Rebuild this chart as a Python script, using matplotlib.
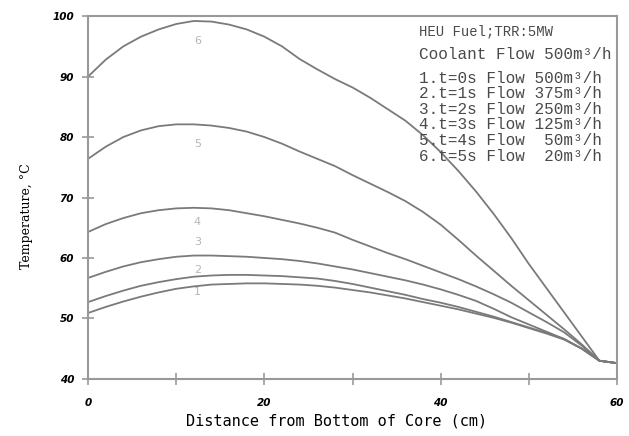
import matplotlib.pyplot as plt

# distance from bottom of core (cm)
dist = [0, 2, 4, 6, 8, 10, 12, 14, 16, 18, 20, 22, 24, 26, 28, 30,
        32, 34, 36, 38, 40, 42, 44, 46, 48, 50, 52, 54, 56, 58, 60]

# temperature curves (deg C)
temp_1 = [50.9, 51.9, 52.8, 53.6, 54.3, 54.9, 55.3, 55.6, 55.7, 55.8, 55.8,
          55.7, 55.6, 55.4, 55.1, 54.7, 54.3, 53.8, 53.3, 52.7, 52.1, 51.5,
          50.8, 50.1, 49.3, 48.4, 47.5, 46.5, 45.0, 43.0, 42.6]
temp_2 = [52.7, 53.7, 54.6, 55.4, 56.0, 56.5, 56.9, 57.1, 57.2, 57.2, 57.1,
          57.0, 56.8, 56.6, 56.2, 55.7, 55.1, 54.5, 53.9, 53.2, 52.6, 51.9,
          51.1, 50.3, 49.4, 48.5, 47.6, 46.6, 45.0, 43.0, 42.6]
temp_3 = [56.7, 57.7, 58.6, 59.3, 59.8, 60.2, 60.4, 60.4, 60.3, 60.2, 60.0,
          59.8, 59.5, 59.1, 58.6, 58.1, 57.5, 56.9, 56.3, 55.6, 54.8, 53.9,
          52.9, 51.6, 50.2, 49.0, 47.8, 46.6, 45.0, 43.0, 42.6]
temp_4 = [64.3, 65.6, 66.6, 67.4, 67.9, 68.2, 68.3, 68.2, 67.9, 67.4, 66.9,
          66.3, 65.7, 65.0, 64.2, 63.0, 61.9, 60.8, 59.8, 58.7, 57.6, 56.5,
          55.3, 54.0, 52.6, 51.0, 49.4, 47.7, 45.5, 43.0, 42.6]
temp_5 = [76.4, 78.4, 80.0, 81.1, 81.8, 82.1, 82.1, 81.9, 81.5, 80.9, 80.0,
          78.9, 77.6, 76.4, 75.2, 73.7, 72.3, 70.9, 69.4, 67.6, 65.5, 63.0,
          60.4, 57.9, 55.4, 53.0, 50.6, 48.2, 45.7, 43.0, 42.6]
temp_6 = [90.0, 92.8, 95.0, 96.6, 97.8, 98.7, 99.2, 99.1, 98.6, 97.8, 96.6,
          95.0, 92.9, 91.2, 89.6, 88.2, 86.5, 84.6, 82.7, 80.3, 77.5, 74.4,
          71.0, 67.3, 63.3, 59.0, 55.0, 51.0, 47.0, 43.0, 42.6]

curves = [temp_1, temp_2, temp_3, temp_4, temp_5, temp_6]
curve_names = ['1', '2', '3', '4', '5', '6']
name_pos = [54.4, 58.0, 62.7, 66.0, 78.8, 95.9]

legend_lines = [
    '1.t=0s Flow 500m\u00b3/h',
    '2.t=1s Flow 375m\u00b3/h',
    '3.t=2s Flow 250m\u00b3/h',
    '4.t=3s Flow 125m\u00b3/h',
    '5.t=4s Flow  50m\u00b3/h',
    '6.t=5s Flow  20m\u00b3/h',
]

grey = '#7a7a7a'
ink = '#4a4a4a'

fig = plt.figure(figsize=(6.29, 4.36), dpi=100)
ax = fig.add_axes([0.14, 0.131, 0.841, 0.832])

for temps in curves:
    ax.plot(dist, temps, color=grey, linewidth=1.3)

# curve numbers near the peaks
for name, t in zip(curve_names, name_pos):
    ax.text(12.4, t, name, color='#b5b5b5', fontsize=8, ha='center', va='center')

# annotation block in the upper right
ax.text(37.5, 97.5, 'HEU Fuel;TRR:5MW', family='Liberation Mono', fontsize=10,
        color=ink, va='center', clip_on=False)
ax.text(37.5, 93.7, 'Coolant Flow 500m\u00b3/h', family='Liberation Mono', fontsize=11.5,
        color=ink, va='center', clip_on=False)
ax.text(37.5, 91.0, '\n'.join(legend_lines), family='Liberation Mono', fontsize=11.5,
        color=ink, va='top', linespacing=1.05, clip_on=False)

ax.set_xlim(0, 60)
ax.set_ylim(40, 100)
ax.set_xticks([0, 20, 40, 60])
ax.set_xticks([10, 30, 50], minor=True)
ax.set_yticks([40, 50, 60, 70, 80, 90, 100])
ax.tick_params(which='both', direction='inout', length=8, color='#999999', width=1.2)
ax.tick_params(axis='x', pad=10)
ax.tick_params(axis='y', pad=6)
for lab in ax.get_xticklabels() + ax.get_yticklabels():
    lab.set_fontweight('bold')
    lab.set_fontstyle('italic')
    lab.set_fontsize(7.5)

for side in ax.spines.values():
    side.set_color('#999999')
    side.set_linewidth(1.5)

ax.set_xlabel('Distance from Bottom of Core (cm)', family='DejaVu Sans Mono',
              fontsize=11)
ax.xaxis.set_label_coords(0.47, -0.095)
ax.set_ylabel('Temperature, \u00b0C', family='DejaVu Serif', fontsize=9)
ax.yaxis.set_label_coords(-0.105, 0.45)

fig.savefig('out.png')
